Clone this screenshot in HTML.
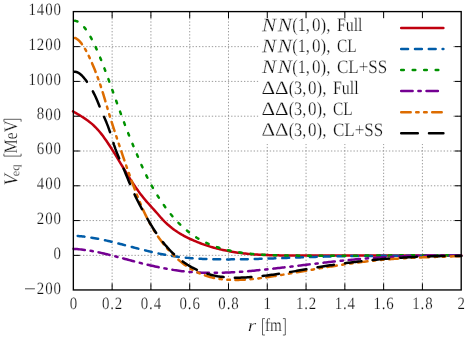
<!DOCTYPE html>
<html><head><meta charset="utf-8"><title>Veq</title>
<style>html,body{margin:0;padding:0;background:#fff}svg{display:block;will-change:transform;opacity:0.999}text{font-family:"Liberation Serif",serif;fill:#111;stroke:#fff;stroke-width:0.25px}</style></head>
<body>
<svg width="469" height="339" viewBox="0 0 469 339">
<rect width="469" height="339" fill="#fff"/>
<path d="M112.13,289.95 V11.6 M150.92,289.95 V11.6 M189.71,289.95 V11.6 M228.49,289.95 V11.6 M267.27,289.95 V11.6 M306.06,289.95 V11.6 M344.85,289.95 V11.6 M383.63,289.95 V11.6 M422.42,289.95 V11.6 M73.35,255.36 H461.2 M73.35,220.57 H461.2 M73.35,185.79 H461.2 M73.35,151.00 H461.2 M73.35,116.21 H461.2 M73.35,81.42 H461.2 M73.35,46.64 H461.2" fill="none" stroke="#8a8a8a" stroke-width="0.85" stroke-dasharray="1.35 1.87"/>
<g fill="none" stroke-width="2.5" stroke-linejoin="round" stroke-linecap="round">
<path d="M73.0,111.31 L74.5,112.22 L76.0,113.12 L77.5,114.01 L79.0,114.90 L80.5,115.80 L82.0,116.73 L83.5,117.67 L85.0,118.66 L86.5,119.69 L88.0,120.77 L89.5,121.91 L91.0,123.12 L92.5,124.41 L94.0,125.78 L95.5,127.24 L97.0,128.81 L98.5,130.48 L100.0,132.26 L101.5,134.14 L103.0,136.10 L104.5,138.15 L106.0,140.27 L107.5,142.47 L109.0,144.72 L110.5,147.02 L112.0,149.38 L113.5,151.77 L115.0,154.19 L116.5,156.63 L118.0,159.10 L119.5,161.57 L121.0,164.04 L122.5,166.51 L124.0,168.97 L125.5,171.41 L127.0,173.83 L128.4,176.22 L129.9,178.58 L131.4,180.90 L132.9,183.19 L134.4,185.43 L135.9,187.63 L137.4,189.77 L138.9,191.86 L140.4,193.89 L141.9,195.85 L143.4,197.75 L144.9,199.57 L146.4,201.33 L147.9,203.03 L149.4,204.69 L150.9,206.34 L152.4,207.98 L153.9,209.63 L155.4,211.32 L156.9,213.05 L158.4,214.79 L159.9,216.52 L161.4,218.21 L162.9,219.82 L164.4,221.36 L165.9,222.82 L167.4,224.22 L168.9,225.54 L170.4,226.81 L171.9,228.01 L173.4,229.15 L174.9,230.24 L176.4,231.27 L177.9,232.26 L179.4,233.20 L180.9,234.10 L182.4,234.97 L183.9,235.79 L185.4,236.59 L186.9,237.35 L188.4,238.09 L189.9,238.80 L191.4,239.50 L192.9,240.17 L194.4,240.83 L195.9,241.47 L197.4,242.08 L198.9,242.68 L200.4,243.26 L201.9,243.82 L203.4,244.37 L204.9,244.89 L206.4,245.40 L207.9,245.90 L209.4,246.37 L210.9,246.83 L212.4,247.28 L213.9,247.70 L215.4,248.12 L216.9,248.51 L218.4,248.89 L219.9,249.26 L221.4,249.62 L222.9,249.96 L224.4,250.28 L225.9,250.59 L227.4,250.89 L228.9,251.18 L230.4,251.45 L231.9,251.72 L233.4,251.97 L234.9,252.20 L236.4,252.43 L237.9,252.65 L239.4,252.85 L240.9,253.05 L242.4,253.23 L243.9,253.41 L245.4,253.57 L246.9,253.73 L248.4,253.88 L249.9,254.02 L251.4,254.15 L252.9,254.27 L254.4,254.39 L255.9,254.49 L257.4,254.59 L258.9,254.69 L260.4,254.77 L261.9,254.85 L263.4,254.93 L264.9,254.99 L266.4,255.06 L267.9,255.11 L269.4,255.16 L270.9,255.21 L272.4,255.25 L273.9,255.29 L275.4,255.32 L276.9,255.35 L278.4,255.37 L279.9,255.39 L281.4,255.41 L282.9,255.43 L284.4,255.44 L285.9,255.45 L287.4,255.45 L288.9,255.46 L290.4,255.46 L291.9,255.47 L293.4,255.47 L294.9,255.47 L296.4,255.47 L297.9,255.46 L299.4,255.46 L300.9,255.46 L302.4,255.46 L303.9,255.46 L305.4,255.46 L306.9,255.46 L308.4,255.46 L309.9,255.46 L311.4,255.46 L312.9,255.46 L314.4,255.45 L315.9,255.45 L317.4,255.45 L318.9,255.45 L320.4,255.45 L321.9,255.45 L323.4,255.45 L324.9,255.46 L326.4,255.46 L327.9,255.46 L329.4,255.46 L330.9,255.46 L332.4,255.46 L333.9,255.46 L335.4,255.46 L336.9,255.46 L338.4,255.46 L339.9,255.46 L341.4,255.46 L342.9,255.46 L344.4,255.47 L345.9,255.47 L347.4,255.47 L348.9,255.47 L350.4,255.47 L351.9,255.47 L353.4,255.47 L354.9,255.48 L356.4,255.48 L357.9,255.48 L359.4,255.48 L360.9,255.48 L362.4,255.48 L363.9,255.48 L365.4,255.49 L366.9,255.49 L368.4,255.49 L369.9,255.49 L371.4,255.49 L372.9,255.49 L374.4,255.50 L375.9,255.50 L377.4,255.50 L378.9,255.50 L380.4,255.50 L381.9,255.50 L383.4,255.51 L384.9,255.51 L386.4,255.51 L387.9,255.51 L389.4,255.51 L390.9,255.51 L392.4,255.51 L393.9,255.52 L395.4,255.52 L396.9,255.52 L398.4,255.52 L399.9,255.52 L401.4,255.52 L402.9,255.52 L404.4,255.52 L405.9,255.52 L407.4,255.53 L408.9,255.53 L410.4,255.53 L411.9,255.53 L413.4,255.53 L414.9,255.53 L416.4,255.53 L417.9,255.53 L419.4,255.53 L420.9,255.53 L422.4,255.53 L423.9,255.53 L425.4,255.53 L426.9,255.53 L428.4,255.53 L429.9,255.53 L431.4,255.53 L432.9,255.53 L434.4,255.53 L435.9,255.53 L437.4,255.53 L438.9,255.53 L440.4,255.53 L441.9,255.52 L443.4,255.52 L444.9,255.52 L446.4,255.52 L447.9,255.52 L449.4,255.52 L450.9,255.51 L452.4,255.51 L453.9,255.51 L455.4,255.51 L456.9,255.50 L458.4,255.50 L459.9,255.50 L461.3,255.50" stroke="#c0000f"/>
<path d="M76.7,235.88 L78.2,236.00 L79.7,236.13 L81.2,236.28 L82.7,236.44 L84.2,236.61 L85.7,236.80 L87.2,237.00 L88.7,237.22 L90.2,237.45 L91.7,237.69 L93.2,237.94 L94.7,238.20 L96.2,238.47 L97.7,238.75 L99.2,239.05 L100.7,239.35 L102.2,239.66 L103.7,239.98 L105.2,240.31 L106.7,240.64 L108.2,240.98 L109.7,241.33 L111.2,241.69 L112.7,242.05 L114.2,242.41 L115.7,242.79 L117.2,243.16 L118.7,243.54 L120.2,243.92 L121.7,244.31 L123.2,244.70 L124.7,245.09 L126.2,245.48 L127.7,245.87 L129.2,246.27 L130.7,246.66 L132.2,247.06 L133.7,247.45 L135.2,247.85 L136.7,248.24 L138.2,248.63 L139.7,249.02 L141.2,249.40 L142.7,249.78 L144.2,250.16 L145.7,250.53 L147.2,250.90 L148.7,251.27 L150.2,251.63 L151.7,251.98 L153.2,252.33 L154.7,252.67 L156.2,253.00 L157.7,253.33 L159.2,253.65 L160.7,253.95 L162.2,254.25 L163.7,254.55 L165.2,254.83 L166.7,255.10 L168.2,255.36 L169.7,255.61 L171.2,255.85 L172.7,256.08 L174.2,256.30 L175.7,256.51 L177.2,256.71 L178.7,256.90 L180.2,257.08 L181.7,257.26 L183.2,257.43 L184.7,257.58 L186.2,257.73 L187.7,257.87 L189.2,258.01 L190.7,258.14 L192.2,258.25 L193.7,258.37 L195.2,258.47 L196.7,258.57 L198.2,258.66 L199.7,258.74 L201.2,258.82 L202.7,258.90 L204.2,258.96 L205.7,259.02 L207.2,259.08 L208.7,259.13 L210.2,259.17 L211.7,259.21 L213.2,259.25 L214.7,259.28 L216.2,259.31 L217.7,259.33 L219.2,259.35 L220.7,259.36 L222.2,259.37 L223.7,259.38 L225.2,259.38 L226.7,259.38 L228.2,259.38 L229.7,259.38 L231.2,259.37 L232.7,259.36 L234.2,259.35 L235.7,259.34 L237.2,259.32 L238.7,259.30 L240.2,259.28 L241.7,259.26 L243.2,259.23 L244.7,259.21 L246.2,259.18 L247.7,259.15 L249.2,259.11 L250.7,259.08 L252.2,259.04 L253.7,259.01 L255.2,258.97 L256.7,258.93 L258.2,258.89 L259.7,258.84 L261.2,258.80 L262.7,258.75 L264.2,258.71 L265.7,258.66 L267.2,258.61 L268.7,258.56 L270.2,258.51 L271.7,258.46 L273.2,258.40 L274.7,258.35 L276.2,258.30 L277.7,258.24 L279.2,258.19 L280.7,258.13 L282.2,258.08 L283.7,258.02 L285.2,257.97 L286.7,257.91 L288.2,257.85 L289.7,257.80 L291.2,257.74 L292.7,257.68 L294.2,257.63 L295.7,257.57 L297.2,257.51 L298.7,257.46 L300.2,257.40 L301.7,257.35 L303.2,257.29 L304.7,257.24 L306.2,257.19 L307.7,257.13 L309.2,257.08 L310.7,257.03 L312.2,256.98 L313.7,256.93 L315.2,256.88 L316.7,256.83 L318.2,256.79 L319.7,256.74 L321.2,256.70 L322.7,256.66 L324.2,256.62 L325.7,256.58 L327.2,256.54 L328.7,256.50 L330.2,256.47 L331.7,256.43 L333.2,256.40 L334.7,256.37 L336.2,256.34 L337.7,256.31 L339.2,256.28 L340.7,256.25 L342.2,256.23 L343.7,256.20 L345.2,256.18 L346.7,256.16 L348.2,256.14 L349.7,256.12 L351.2,256.10 L352.7,256.08 L354.2,256.06 L355.7,256.04 L357.2,256.03 L358.7,256.01 L360.2,256.00 L361.7,255.98 L363.2,255.97 L364.7,255.96 L366.2,255.95 L367.7,255.94 L369.2,255.93 L370.7,255.92 L372.2,255.91 L373.7,255.90 L375.2,255.89 L376.7,255.89 L378.2,255.88 L379.7,255.87 L381.2,255.87 L382.7,255.86 L384.2,255.86 L385.7,255.85 L387.2,255.85 L388.7,255.84 L390.2,255.84 L391.7,255.84 L393.2,255.83 L394.7,255.83 L396.2,255.83 L397.7,255.82 L399.2,255.82 L400.7,255.82 L402.2,255.81 L403.7,255.81 L405.2,255.81 L406.7,255.81 L408.2,255.80 L409.7,255.80 L411.2,255.80 L412.7,255.79 L414.2,255.79 L415.7,255.79 L417.2,255.78 L418.7,255.78 L420.2,255.77 L421.7,255.77 L423.2,255.77 L424.7,255.76 L426.2,255.75 L427.7,255.75 L429.2,255.74 L430.7,255.73 L432.2,255.73 L433.7,255.72 L435.2,255.71 L436.7,255.70 L438.2,255.69 L439.7,255.68 L441.2,255.67 L442.7,255.66 L444.2,255.65 L445.7,255.63 L447.2,255.62 L448.7,255.60 L450.2,255.59 L451.7,255.57 L453.2,255.55 L454.7,255.54 L456.2,255.52 L457.7,255.50 L459.2,255.48 L460.7,255.45 L461.3,255.45" stroke="#005ca8" stroke-dasharray="6.85 6.95" stroke-dashoffset="-1.0"/>
<path d="M73.5,20.71 L75.0,20.75 L76.5,21.10 L78.0,21.73 L79.5,22.65 L81.0,23.83 L82.5,25.27 L84.0,26.95 L85.5,28.87 L87.0,31.01 L88.5,33.36 L90.0,35.91 L91.5,38.66 L93.0,41.57 L94.5,44.66 L96.0,47.90 L97.5,51.29 L99.0,54.80 L100.5,58.44 L102.0,62.19 L103.5,66.04 L105.0,69.98 L106.5,73.99 L108.0,78.06 L109.5,82.18 L111.0,86.34 L112.5,90.52 L114.0,94.72 L115.5,98.93 L117.0,103.12 L118.5,107.29 L120.0,111.44 L121.5,115.55 L123.0,119.61 L124.5,123.63 L126.0,127.60 L127.5,131.50 L129.0,135.32 L130.5,139.07 L132.0,142.74 L133.5,146.31 L135.0,149.83 L136.5,153.35 L138.0,156.91 L139.5,160.48 L141.0,164.00 L142.5,167.40 L144.0,170.67 L145.5,173.82 L147.0,176.85 L148.5,179.78 L150.0,182.61 L151.5,185.36 L153.0,188.03 L154.5,190.62 L156.0,193.14 L157.5,195.59 L159.0,197.96 L160.5,200.27 L162.0,202.51 L163.5,204.67 L165.0,206.77 L166.5,208.81 L168.0,210.78 L169.5,212.69 L171.0,214.53 L172.5,216.32 L174.0,218.04 L175.5,219.71 L177.0,221.31 L178.5,222.87 L180.0,224.36 L181.5,225.81 L183.0,227.20 L184.5,228.54 L186.0,229.82 L187.5,231.06 L189.0,232.25 L190.5,233.40 L192.0,234.50 L193.5,235.55 L195.0,236.56 L196.5,237.53 L198.0,238.45 L199.5,239.34 L201.0,240.19 L202.5,241.00 L204.0,241.78 L205.5,242.52 L207.0,243.22 L208.5,243.89 L210.0,244.54 L211.5,245.15 L213.0,245.73 L214.5,246.28 L216.0,246.81 L217.5,247.31 L219.0,247.79 L220.5,248.24 L222.0,248.67 L223.5,249.08 L225.0,249.47 L226.5,249.84 L228.0,250.19 L229.5,250.53 L231.0,250.85 L232.5,251.16 L234.0,251.45 L235.5,251.72 L237.0,251.99 L238.5,252.23 L240.0,252.47 L241.5,252.69 L243.0,252.90 L244.5,253.10 L246.0,253.28 L247.5,253.46 L249.0,253.62 L250.5,253.77 L252.0,253.92 L253.5,254.05 L255.0,254.18 L256.5,254.29 L258.0,254.40 L259.5,254.50 L261.0,254.59 L262.5,254.68 L264.0,254.76 L265.5,254.83 L267.0,254.90 L268.5,254.96 L270.0,255.02 L271.5,255.07 L273.0,255.12 L274.5,255.17 L276.0,255.21 L277.5,255.25 L279.0,255.29 L280.5,255.32 L282.0,255.36 L283.5,255.39 L285.0,255.42 L286.5,255.45 L288.0,255.48 L289.5,255.51 L291.0,255.53 L292.5,255.56 L294.0,255.58 L295.5,255.60 L297.0,255.62 L298.5,255.64 L300.0,255.66 L301.5,255.67 L303.0,255.69 L304.5,255.70 L306.0,255.72 L307.5,255.73 L309.0,255.74 L310.5,255.75 L312.0,255.76 L313.5,255.77 L315.0,255.77 L316.5,255.78 L318.0,255.78 L319.5,255.79 L321.0,255.79 L322.5,255.79 L324.0,255.79 L325.5,255.80 L327.0,255.80 L328.5,255.79 L330.0,255.79 L331.5,255.79 L333.0,255.79 L334.5,255.78 L336.0,255.78 L337.5,255.77 L339.0,255.77 L340.5,255.76 L342.0,255.75 L343.5,255.75 L345.0,255.74 L346.5,255.73 L348.0,255.72 L349.5,255.71 L351.0,255.70 L352.5,255.69 L354.0,255.68 L355.5,255.67 L357.0,255.66 L358.5,255.65 L360.0,255.64 L361.5,255.62 L363.0,255.61 L364.5,255.60 L366.0,255.59 L367.5,255.57 L369.0,255.56 L370.5,255.55 L372.0,255.54 L373.5,255.52 L375.0,255.51 L376.5,255.50 L378.0,255.48 L379.5,255.47 L381.0,255.46 L382.5,255.45 L384.0,255.43 L385.5,255.42 L387.0,255.41 L388.5,255.40 L390.0,255.38 L391.5,255.37 L393.0,255.36 L394.5,255.35 L396.0,255.34 L397.5,255.33 L399.0,255.32 L400.5,255.31 L402.0,255.30 L403.5,255.29 L405.0,255.28 L406.5,255.28 L408.0,255.27 L409.5,255.26 L411.0,255.26 L412.5,255.25 L414.0,255.25 L415.5,255.24 L417.0,255.24 L418.5,255.23 L420.0,255.23 L421.5,255.23 L423.0,255.23 L424.5,255.23 L426.0,255.23 L427.5,255.23 L429.0,255.23 L430.5,255.24 L432.0,255.24 L433.5,255.25 L435.0,255.25 L436.5,255.26 L438.0,255.27 L439.5,255.28 L441.0,255.29 L442.5,255.30 L444.0,255.31 L445.5,255.33 L447.0,255.34 L448.5,255.36 L450.0,255.37 L451.5,255.39 L453.0,255.41 L454.5,255.43 L456.0,255.45 L457.5,255.48 L459.0,255.50 L460.5,255.53 L461.3,255.54" stroke="#009200" stroke-dasharray="2.60 8.90" stroke-dashoffset="-1.5"/>
<path d="M72.5,248.82 L74.0,248.89 L75.5,248.99 L77.0,249.10 L78.5,249.24 L80.0,249.38 L81.5,249.55 L83.0,249.73 L84.5,249.92 L86.0,250.13 L87.5,250.35 L89.0,250.59 L90.5,250.84 L92.0,251.10 L93.5,251.37 L95.0,251.66 L96.5,251.95 L98.0,252.26 L99.5,252.57 L101.0,252.90 L102.5,253.23 L104.0,253.57 L105.5,253.92 L107.0,254.28 L108.5,254.64 L110.0,255.01 L111.5,255.39 L113.0,255.77 L114.5,256.15 L116.0,256.54 L117.5,256.93 L119.0,257.32 L120.5,257.72 L122.0,258.12 L123.5,258.52 L125.0,258.92 L126.5,259.32 L128.0,259.72 L129.5,260.12 L131.0,260.52 L132.5,260.92 L134.0,261.31 L135.5,261.70 L137.0,262.09 L138.5,262.48 L140.0,262.86 L141.5,263.24 L143.0,263.61 L144.5,263.98 L146.0,264.34 L147.5,264.70 L149.0,265.06 L150.5,265.41 L152.0,265.75 L153.5,266.09 L155.0,266.43 L156.5,266.75 L158.0,267.07 L159.5,267.39 L161.0,267.69 L162.5,267.99 L164.0,268.29 L165.5,268.57 L167.0,268.85 L168.5,269.12 L170.0,269.38 L171.5,269.63 L173.0,269.87 L174.5,270.11 L176.0,270.33 L177.5,270.55 L179.0,270.76 L180.5,270.95 L182.0,271.14 L183.5,271.32 L185.0,271.48 L186.5,271.64 L188.0,271.78 L189.5,271.92 L191.0,272.05 L192.5,272.16 L194.0,272.27 L195.5,272.37 L197.0,272.45 L198.5,272.53 L200.0,272.61 L201.5,272.67 L203.0,272.72 L204.5,272.77 L206.0,272.80 L207.5,272.83 L209.0,272.85 L210.5,272.87 L212.0,272.87 L213.5,272.87 L215.0,272.87 L216.5,272.85 L218.0,272.83 L219.5,272.80 L221.0,272.76 L222.5,272.72 L224.0,272.67 L225.5,272.62 L227.0,272.56 L228.5,272.49 L230.0,272.42 L231.5,272.34 L233.0,272.26 L234.5,272.17 L236.0,272.08 L237.5,271.98 L239.0,271.88 L240.5,271.78 L242.0,271.66 L243.5,271.55 L245.0,271.43 L246.5,271.31 L248.0,271.18 L249.5,271.05 L251.0,270.92 L252.5,270.78 L254.0,270.64 L255.5,270.50 L257.0,270.35 L258.5,270.20 L260.0,270.05 L261.5,269.90 L263.0,269.74 L264.5,269.59 L266.0,269.43 L267.5,269.27 L269.0,269.10 L270.5,268.94 L272.0,268.78 L273.5,268.61 L275.0,268.44 L276.5,268.27 L278.0,268.10 L279.5,267.93 L281.0,267.76 L282.5,267.58 L284.0,267.41 L285.5,267.23 L287.0,267.06 L288.5,266.88 L290.0,266.70 L291.5,266.53 L293.0,266.35 L294.5,266.17 L296.0,265.99 L297.5,265.81 L299.0,265.63 L300.5,265.45 L302.0,265.27 L303.5,265.09 L305.0,264.91 L306.5,264.73 L308.0,264.55 L309.5,264.37 L311.0,264.19 L312.5,264.02 L314.0,263.84 L315.5,263.66 L317.0,263.48 L318.5,263.31 L320.0,263.13 L321.5,262.96 L323.0,262.79 L324.5,262.61 L326.0,262.44 L327.5,262.27 L329.0,262.10 L330.5,261.94 L332.0,261.77 L333.5,261.60 L335.0,261.44 L336.5,261.28 L338.0,261.12 L339.5,260.96 L341.0,260.80 L342.5,260.65 L344.0,260.50 L345.5,260.34 L347.0,260.19 L348.5,260.05 L350.0,259.90 L351.5,259.76 L353.0,259.62 L354.5,259.48 L356.0,259.35 L357.5,259.21 L359.0,259.08 L360.5,258.96 L362.0,258.83 L363.5,258.71 L365.0,258.59 L366.5,258.47 L368.0,258.35 L369.5,258.24 L371.0,258.12 L372.5,258.02 L374.0,257.91 L375.5,257.80 L377.0,257.70 L378.5,257.60 L380.0,257.50 L381.5,257.41 L383.0,257.32 L384.5,257.22 L386.0,257.14 L387.5,257.05 L389.0,256.97 L390.5,256.88 L392.0,256.81 L393.5,256.73 L395.0,256.65 L396.5,256.58 L398.0,256.51 L399.5,256.44 L401.0,256.38 L402.5,256.32 L404.0,256.25 L405.5,256.20 L407.0,256.14 L408.5,256.08 L410.0,256.03 L411.5,255.98 L413.0,255.94 L414.5,255.89 L416.0,255.85 L417.5,255.81 L419.0,255.77 L420.5,255.73 L422.0,255.70 L423.5,255.66 L425.0,255.64 L426.5,255.61 L428.0,255.58 L429.5,255.56 L431.0,255.54 L432.5,255.52 L434.0,255.50 L435.5,255.49 L437.0,255.48 L438.5,255.47 L440.0,255.46 L441.5,255.45 L443.0,255.45 L444.5,255.45 L446.0,255.45 L447.5,255.45 L449.0,255.46 L450.5,255.46 L452.0,255.47 L453.5,255.48 L455.0,255.50 L456.5,255.51 L458.0,255.53 L459.5,255.55 L461.0,255.57 L461.3,255.58" stroke="#740092" stroke-dasharray="11.40 5.80 2.30 5.80" stroke-dashoffset="-1.0"/>
<path d="M73.5,37.65 L75.0,37.98 L76.5,38.69 L78.0,39.75 L79.5,41.15 L81.0,42.86 L82.5,44.86 L84.0,47.13 L85.5,49.66 L87.0,52.42 L88.5,55.39 L90.0,58.56 L91.5,61.90 L93.0,65.39 L94.5,69.04 L96.0,72.86 L97.5,76.87 L99.0,81.06 L100.5,85.47 L102.0,90.08 L103.5,94.93 L105.0,99.94 L106.5,105.04 L108.0,110.14 L109.5,115.15 L111.0,120.00 L112.5,124.73 L114.0,129.36 L115.5,133.94 L117.0,138.48 L118.5,142.99 L120.0,147.47 L121.5,151.91 L123.0,156.31 L124.5,160.68 L126.0,165.00 L127.5,169.28 L129.0,173.52 L130.5,177.70 L132.0,181.84 L133.5,185.91 L135.0,189.90 L136.5,193.81 L138.0,197.63 L139.5,201.33 L141.0,204.92 L142.5,208.38 L144.0,211.70 L145.5,214.88 L147.0,217.92 L148.5,220.83 L150.0,223.61 L151.5,226.27 L153.0,228.82 L154.5,231.26 L156.0,233.60 L157.5,235.85 L159.0,238.01 L160.5,240.08 L162.0,242.08 L163.5,244.01 L165.0,245.88 L166.5,247.67 L168.0,249.40 L169.5,251.07 L171.0,252.68 L172.5,254.22 L174.0,255.71 L175.5,257.15 L177.0,258.53 L178.5,259.85 L180.0,261.13 L181.5,262.35 L183.0,263.52 L184.5,264.63 L186.0,265.71 L187.5,266.73 L189.0,267.70 L190.5,268.63 L192.0,269.52 L193.5,270.36 L195.0,271.15 L196.5,271.91 L198.0,272.62 L199.5,273.30 L201.0,273.93 L202.5,274.53 L204.0,275.08 L205.5,275.61 L207.0,276.09 L208.5,276.55 L210.0,276.97 L211.5,277.35 L213.0,277.71 L214.5,278.04 L216.0,278.33 L217.5,278.60 L219.0,278.84 L220.5,279.05 L222.0,279.24 L223.5,279.40 L225.0,279.54 L226.5,279.66 L228.0,279.76 L229.5,279.83 L231.0,279.89 L232.5,279.93 L234.0,279.95 L235.5,279.95 L237.0,279.94 L238.5,279.91 L240.0,279.87 L241.5,279.81 L243.0,279.75 L244.5,279.67 L246.0,279.58 L247.5,279.48 L249.0,279.36 L250.5,279.24 L252.0,279.11 L253.5,278.96 L255.0,278.81 L256.5,278.65 L258.0,278.48 L259.5,278.30 L261.0,278.11 L262.5,277.92 L264.0,277.72 L265.5,277.51 L267.0,277.30 L268.5,277.08 L270.0,276.85 L271.5,276.62 L273.0,276.38 L274.5,276.14 L276.0,275.90 L277.5,275.65 L279.0,275.40 L280.5,275.15 L282.0,274.89 L283.5,274.63 L285.0,274.37 L286.5,274.11 L288.0,273.85 L289.5,273.59 L291.0,273.32 L292.5,273.06 L294.0,272.80 L295.5,272.54 L297.0,272.27 L298.5,272.01 L300.0,271.75 L301.5,271.48 L303.0,271.22 L304.5,270.96 L306.0,270.70 L307.5,270.44 L309.0,270.18 L310.5,269.92 L312.0,269.66 L313.5,269.40 L315.0,269.14 L316.5,268.89 L318.0,268.63 L319.5,268.38 L321.0,268.13 L322.5,267.88 L324.0,267.63 L325.5,267.38 L327.0,267.13 L328.5,266.89 L330.0,266.64 L331.5,266.40 L333.0,266.16 L334.5,265.93 L336.0,265.69 L337.5,265.46 L339.0,265.22 L340.5,265.00 L342.0,264.77 L343.5,264.54 L345.0,264.32 L346.5,264.10 L348.0,263.89 L349.5,263.67 L351.0,263.46 L352.5,263.25 L354.0,263.05 L355.5,262.84 L357.0,262.64 L358.5,262.45 L360.0,262.25 L361.5,262.06 L363.0,261.88 L364.5,261.69 L366.0,261.51 L367.5,261.34 L369.0,261.16 L370.5,260.99 L372.0,260.83 L373.5,260.67 L375.0,260.51 L376.5,260.36 L378.0,260.21 L379.5,260.06 L381.0,259.92 L382.5,259.79 L384.0,259.65 L385.5,259.52 L387.0,259.40 L388.5,259.28 L390.0,259.16 L391.5,259.05 L393.0,258.94 L394.5,258.83 L396.0,258.73 L397.5,258.63 L399.0,258.54 L400.5,258.44 L402.0,258.35 L403.5,258.27 L405.0,258.18 L406.5,258.10 L408.0,258.02 L409.5,257.94 L411.0,257.87 L412.5,257.80 L414.0,257.73 L415.5,257.66 L417.0,257.59 L418.5,257.53 L420.0,257.47 L421.5,257.41 L423.0,257.35 L424.5,257.29 L426.0,257.23 L427.5,257.18 L429.0,257.13 L430.5,257.07 L432.0,257.02 L433.5,256.97 L435.0,256.92 L436.5,256.87 L438.0,256.82 L439.5,256.78 L441.0,256.73 L442.5,256.68 L444.0,256.63 L445.5,256.59 L447.0,256.54 L448.5,256.49 L450.0,256.45 L451.5,256.40 L453.0,256.35 L454.5,256.30 L456.0,256.25 L457.5,256.20 L459.0,256.15 L460.5,256.10 L461.3,256.07" stroke="#dd6c00" stroke-dasharray="9.50 5.50 2.40 5.50 2.60 5.50" stroke-dashoffset="-1.5"/>
<path d="M73.5,71.86 L75.0,71.74 L76.5,72.00 L78.0,72.60 L79.5,73.53 L81.0,74.74 L82.5,76.21 L84.0,77.91 L85.5,79.80 L87.0,81.86 L88.5,84.06 L90.0,86.40 L91.5,88.91 L93.0,91.62 L94.5,94.57 L96.0,97.79 L97.5,101.32 L99.0,105.08 L100.5,108.76 L102.0,112.25 L103.5,115.64 L105.0,119.05 L106.5,122.59 L108.0,126.40 L109.5,130.57 L111.0,135.21 L112.5,140.10 L114.0,144.80 L115.5,149.11 L117.0,153.09 L118.5,156.83 L120.0,160.39 L121.5,163.87 L123.0,167.34 L124.5,170.87 L126.0,174.47 L127.5,178.09 L129.0,181.70 L130.5,185.27 L132.0,188.77 L133.5,192.16 L135.0,195.42 L136.5,198.53 L138.0,201.53 L139.5,204.44 L141.0,207.27 L142.5,210.06 L144.0,212.80 L145.5,215.50 L147.0,218.14 L148.5,220.73 L150.0,223.26 L151.5,225.72 L153.0,228.12 L154.5,230.45 L156.0,232.70 L157.5,234.88 L159.0,236.98 L160.5,239.01 L162.0,240.97 L163.5,242.86 L165.0,244.68 L166.5,246.43 L168.0,248.12 L169.5,249.74 L171.0,251.31 L172.5,252.80 L174.0,254.24 L175.5,255.63 L177.0,256.95 L178.5,258.22 L180.0,259.43 L181.5,260.60 L183.0,261.71 L184.5,262.77 L186.0,263.78 L187.5,264.75 L189.0,265.67 L190.5,266.55 L192.0,267.39 L193.5,268.18 L195.0,268.94 L196.5,269.66 L198.0,270.34 L199.5,270.98 L201.0,271.59 L202.5,272.17 L204.0,272.71 L205.5,273.22 L207.0,273.69 L208.5,274.14 L210.0,274.55 L211.5,274.93 L213.0,275.29 L214.5,275.61 L216.0,275.91 L217.5,276.19 L219.0,276.43 L220.5,276.66 L222.0,276.85 L223.5,277.03 L225.0,277.18 L226.5,277.31 L228.0,277.42 L229.5,277.51 L231.0,277.58 L232.5,277.63 L234.0,277.67 L235.5,277.69 L237.0,277.69 L238.5,277.67 L240.0,277.64 L241.5,277.60 L243.0,277.55 L244.5,277.48 L246.0,277.40 L247.5,277.32 L249.0,277.22 L250.5,277.11 L252.0,277.00 L253.5,276.88 L255.0,276.75 L256.5,276.61 L258.0,276.46 L259.5,276.31 L261.0,276.15 L262.5,275.98 L264.0,275.81 L265.5,275.63 L267.0,275.45 L268.5,275.26 L270.0,275.06 L271.5,274.86 L273.0,274.65 L274.5,274.44 L276.0,274.23 L277.5,274.00 L279.0,273.78 L280.5,273.55 L282.0,273.32 L283.5,273.09 L285.0,272.85 L286.5,272.61 L288.0,272.36 L289.5,272.11 L291.0,271.87 L292.5,271.61 L294.0,271.36 L295.5,271.11 L297.0,270.85 L298.5,270.60 L300.0,270.34 L301.5,270.08 L303.0,269.82 L304.5,269.56 L306.0,269.30 L307.5,269.05 L309.0,268.79 L310.5,268.53 L312.0,268.28 L313.5,268.02 L315.0,267.77 L316.5,267.52 L318.0,267.27 L319.5,267.02 L321.0,266.77 L322.5,266.53 L324.0,266.29 L325.5,266.06 L327.0,265.82 L328.5,265.59 L330.0,265.36 L331.5,265.14 L333.0,264.91 L334.5,264.69 L336.0,264.48 L337.5,264.26 L339.0,264.05 L340.5,263.84 L342.0,263.64 L343.5,263.43 L345.0,263.23 L346.5,263.03 L348.0,262.84 L349.5,262.65 L351.0,262.46 L352.5,262.27 L354.0,262.09 L355.5,261.90 L357.0,261.73 L358.5,261.55 L360.0,261.38 L361.5,261.21 L363.0,261.04 L364.5,260.87 L366.0,260.71 L367.5,260.55 L369.0,260.40 L370.5,260.24 L372.0,260.09 L373.5,259.94 L375.0,259.80 L376.5,259.66 L378.0,259.52 L379.5,259.38 L381.0,259.24 L382.5,259.11 L384.0,258.98 L385.5,258.86 L387.0,258.73 L388.5,258.61 L390.0,258.49 L391.5,258.38 L393.0,258.27 L394.5,258.16 L396.0,258.05 L397.5,257.95 L399.0,257.84 L400.5,257.75 L402.0,257.65 L403.5,257.56 L405.0,257.46 L406.5,257.38 L408.0,257.29 L409.5,257.21 L411.0,257.13 L412.5,257.05 L414.0,256.98 L415.5,256.91 L417.0,256.84 L418.5,256.77 L420.0,256.71 L421.5,256.65 L423.0,256.59 L424.5,256.53 L426.0,256.48 L427.5,256.43 L429.0,256.38 L430.5,256.34 L432.0,256.30 L433.5,256.26 L435.0,256.22 L436.5,256.19 L438.0,256.16 L439.5,256.13 L441.0,256.11 L442.5,256.08 L444.0,256.06 L445.5,256.05 L447.0,256.03 L448.5,256.02 L450.0,256.01 L451.5,256.00 L453.0,256.00 L454.5,256.00 L456.0,256.00 L457.5,256.00 L459.0,256.01 L460.5,256.02 L461.3,256.03" stroke="#000000" stroke-dasharray="16.60 11.20" stroke-dashoffset="-1.0"/>
</g>
<rect x="258.5" y="11.85" width="193.5" height="132.15" fill="#fff"/>
<g fill="none" stroke-width="2.5" stroke-linecap="round">
<path d="M401.2,28.0 H443.4" stroke="#c0000f"/>
<path d="M401.2,49.1 H443.4" stroke="#005ca8" stroke-dasharray="6.85 6.95"/>
<path d="M401.2,70.1 H443.4" stroke="#009200" stroke-dasharray="2.60 8.90"/>
<path d="M401.2,91.1 H443.4" stroke="#740092" stroke-dasharray="11.40 5.80 2.30 5.80"/>
<path d="M401.2,112.2 H443.4" stroke="#dd6c00" stroke-dasharray="9.50 5.50 2.40 5.50 2.60 5.50"/>
<path d="M401.2,133.2 H443.4" stroke="#000000" stroke-dasharray="16.60 11.20"/>
</g>
<path d="M112.13,289.95 v-6.6 M112.13,11.6 v6.6 M150.92,289.95 v-6.6 M150.92,11.6 v6.6 M189.71,289.95 v-6.6 M189.71,11.6 v6.6 M228.49,289.95 v-6.6 M228.49,11.6 v6.6 M267.27,289.95 v-6.6 M267.27,11.6 v6.6 M306.06,289.95 v-6.6 M306.06,11.6 v6.6 M344.85,289.95 v-6.6 M344.85,11.6 v6.6 M383.63,289.95 v-6.6 M383.63,11.6 v6.6 M422.42,289.95 v-6.6 M422.42,11.6 v6.6 M73.35,255.36 h6.5 M461.2,255.36 h-6.5 M73.35,220.57 h6.5 M461.2,220.57 h-6.5 M73.35,185.79 h6.5 M461.2,185.79 h-6.5 M73.35,151.00 h6.5 M461.2,151.00 h-6.5 M73.35,116.21 h6.5 M461.2,116.21 h-6.5 M73.35,81.42 h6.5 M461.2,81.42 h-6.5 M73.35,46.64 h6.5 M461.2,46.64 h-6.5" fill="none" stroke="#000" stroke-width="1"/>
<rect x="73.35" y="11.6" width="387.85" height="278.35" fill="none" stroke="#000" stroke-width="1.35"/>
<text transform="translate(61.76,294.05) rotate(0.03) scale(0.744,0.865)" font-size="20.0" text-anchor="end" letter-spacing="1.16">200</text>
<path d="M25.0,288.8 h9.9" stroke="#222" stroke-width="0.8" fill="none"/>
<text transform="translate(61.76,258.66) rotate(0.03) scale(0.744,0.865)" font-size="20.0" text-anchor="end" letter-spacing="1.16">0</text>
<text transform="translate(61.76,223.87) rotate(0.03) scale(0.744,0.865)" font-size="20.0" text-anchor="end" letter-spacing="1.16">200</text>
<text transform="translate(61.76,189.09) rotate(0.03) scale(0.744,0.865)" font-size="20.0" text-anchor="end" letter-spacing="1.16">400</text>
<text transform="translate(61.76,154.30) rotate(0.03) scale(0.744,0.865)" font-size="20.0" text-anchor="end" letter-spacing="1.16">600</text>
<text transform="translate(61.76,119.51) rotate(0.03) scale(0.744,0.865)" font-size="20.0" text-anchor="end" letter-spacing="1.16">800</text>
<text transform="translate(61.76,84.72) rotate(0.03) scale(0.744,0.865)" font-size="20.0" text-anchor="end" letter-spacing="1.16">1000</text>
<text transform="translate(61.76,49.94) rotate(0.03) scale(0.744,0.865)" font-size="20.0" text-anchor="end" letter-spacing="1.16">1200</text>
<text transform="translate(61.76,15.15) rotate(0.03) scale(0.744,0.865)" font-size="20.0" text-anchor="end" letter-spacing="1.16">1400</text>
<text transform="translate(73.78,309.00) rotate(0.03) scale(0.744,0.865)" font-size="20.0" text-anchor="middle" letter-spacing="1.16">0</text>
<text transform="translate(112.57,309.00) rotate(0.03) scale(0.744,0.865)" font-size="20.0" text-anchor="middle" letter-spacing="1.16">0.2</text>
<text transform="translate(151.35,309.00) rotate(0.03) scale(0.744,0.865)" font-size="20.0" text-anchor="middle" letter-spacing="1.16">0.4</text>
<text transform="translate(190.14,309.00) rotate(0.03) scale(0.744,0.865)" font-size="20.0" text-anchor="middle" letter-spacing="1.16">0.6</text>
<text transform="translate(228.92,309.00) rotate(0.03) scale(0.744,0.865)" font-size="20.0" text-anchor="middle" letter-spacing="1.16">0.8</text>
<text transform="translate(267.71,309.00) rotate(0.03) scale(0.744,0.865)" font-size="20.0" text-anchor="middle" letter-spacing="1.16">1</text>
<text transform="translate(306.49,309.00) rotate(0.03) scale(0.744,0.865)" font-size="20.0" text-anchor="middle" letter-spacing="1.16">1.2</text>
<text transform="translate(345.28,309.00) rotate(0.03) scale(0.744,0.865)" font-size="20.0" text-anchor="middle" letter-spacing="1.16">1.4</text>
<text transform="translate(384.06,309.00) rotate(0.03) scale(0.744,0.865)" font-size="20.0" text-anchor="middle" letter-spacing="1.16">1.6</text>
<text transform="translate(422.85,309.00) rotate(0.03) scale(0.744,0.865)" font-size="20.0" text-anchor="middle" letter-spacing="1.16">1.8</text>
<text transform="translate(461.63,309.00) rotate(0.03) scale(0.744,0.865)" font-size="20.0" text-anchor="middle" letter-spacing="1.16">2</text>
<text transform="translate(247.80,330.90) rotate(0.03) scale(1.250,1.000)" font-size="17.2" font-style="italic">r</text>
<text transform="translate(265.00,330.90) rotate(0.03) scale(1.000,1.000)" font-size="18.5" textLength="16.80" lengthAdjust="spacingAndGlyphs">fm</text>
<path d="M264.9,318.6 h-2.4 v16.4 h2.4 M282.9,318.6 h2.4 v16.4 h-2.4" fill="none" stroke="#3a3a3a" stroke-width="0.8"/>
<g transform="rotate(-90)">
<text transform="translate(-185.40,17.20) rotate(0.03) scale(0.940,1.000)" font-size="19.6" font-style="italic">V</text>
<text transform="translate(-176.30,19.30) rotate(0.03) scale(1.000,1.000)" font-size="12.1" textLength="11.80" lengthAdjust="spacingAndGlyphs">eq</text>
<text transform="translate(-153.60,17.20) rotate(0.03) scale(1.000,1.000)" font-size="19.0" textLength="32.80" lengthAdjust="spacingAndGlyphs">MeV</text>
<path d="M-153.7,3.9 h-2.4 v17.2 h2.4 M-121.7,3.9 h2.4 v17.2 h-2.4" fill="none" stroke="#3a3a3a" stroke-width="0.8"/>
</g>
<text transform="translate(262.00,31.30) rotate(0.03) scale(1.116,1.000)" font-size="19.0" font-style="italic">N</text>
<text transform="translate(277.80,31.30) rotate(0.03) scale(1.116,1.000)" font-size="19.0" font-style="italic">N</text>
<text transform="translate(292.30,31.30) rotate(0.03) scale(1.000,1.000)" font-size="19.0" textLength="17.60" lengthAdjust="spacingAndGlyphs">(1,</text>
<text transform="translate(312.00,31.30) rotate(0.03) scale(1.000,1.000)" font-size="19.0" textLength="18.40" lengthAdjust="spacingAndGlyphs">0),</text>
<text transform="translate(336.90,31.30) rotate(0.03) scale(1.000,1.000)" font-size="19.0" textLength="25.60" lengthAdjust="spacingAndGlyphs">Full</text>
<text transform="translate(262.00,52.20) rotate(0.03) scale(1.116,1.000)" font-size="19.0" font-style="italic">N</text>
<text transform="translate(277.80,52.20) rotate(0.03) scale(1.116,1.000)" font-size="19.0" font-style="italic">N</text>
<text transform="translate(292.30,52.20) rotate(0.03) scale(1.000,1.000)" font-size="19.0" textLength="17.60" lengthAdjust="spacingAndGlyphs">(1,</text>
<text transform="translate(312.00,52.20) rotate(0.03) scale(1.000,1.000)" font-size="19.0" textLength="18.40" lengthAdjust="spacingAndGlyphs">0),</text>
<text transform="translate(336.90,52.20) rotate(0.03) scale(1.000,1.000)" font-size="19.0" textLength="19.60" lengthAdjust="spacingAndGlyphs">CL</text>
<text transform="translate(262.00,73.10) rotate(0.03) scale(1.116,1.000)" font-size="19.0" font-style="italic">N</text>
<text transform="translate(277.80,73.10) rotate(0.03) scale(1.116,1.000)" font-size="19.0" font-style="italic">N</text>
<text transform="translate(292.30,73.10) rotate(0.03) scale(1.000,1.000)" font-size="19.0" textLength="17.60" lengthAdjust="spacingAndGlyphs">(1,</text>
<text transform="translate(312.00,73.10) rotate(0.03) scale(1.000,1.000)" font-size="19.0" textLength="18.40" lengthAdjust="spacingAndGlyphs">0),</text>
<text transform="translate(336.90,73.10) rotate(0.03) scale(1.000,1.000)" font-size="19.0" textLength="50.30" lengthAdjust="spacingAndGlyphs">CL+SS</text>
<text transform="translate(261.40,94.00) rotate(0.03) scale(1.116,1.000)" font-size="19.0">Δ</text>
<text transform="translate(275.10,94.00) rotate(0.03) scale(1.116,1.000)" font-size="19.0">Δ</text>
<text transform="translate(288.70,94.00) rotate(0.03) scale(1.000,1.000)" font-size="19.0" textLength="17.60" lengthAdjust="spacingAndGlyphs">(3,</text>
<text transform="translate(308.10,94.00) rotate(0.03) scale(1.000,1.000)" font-size="19.0" textLength="18.40" lengthAdjust="spacingAndGlyphs">0),</text>
<text transform="translate(333.00,94.00) rotate(0.03) scale(1.000,1.000)" font-size="19.0" textLength="25.60" lengthAdjust="spacingAndGlyphs">Full</text>
<text transform="translate(261.40,114.90) rotate(0.03) scale(1.116,1.000)" font-size="19.0">Δ</text>
<text transform="translate(275.10,114.90) rotate(0.03) scale(1.116,1.000)" font-size="19.0">Δ</text>
<text transform="translate(288.70,114.90) rotate(0.03) scale(1.000,1.000)" font-size="19.0" textLength="17.60" lengthAdjust="spacingAndGlyphs">(3,</text>
<text transform="translate(308.10,114.90) rotate(0.03) scale(1.000,1.000)" font-size="19.0" textLength="18.40" lengthAdjust="spacingAndGlyphs">0),</text>
<text transform="translate(333.00,114.90) rotate(0.03) scale(1.000,1.000)" font-size="19.0" textLength="19.60" lengthAdjust="spacingAndGlyphs">CL</text>
<text transform="translate(261.40,135.80) rotate(0.03) scale(1.116,1.000)" font-size="19.0">Δ</text>
<text transform="translate(275.10,135.80) rotate(0.03) scale(1.116,1.000)" font-size="19.0">Δ</text>
<text transform="translate(288.70,135.80) rotate(0.03) scale(1.000,1.000)" font-size="19.0" textLength="17.60" lengthAdjust="spacingAndGlyphs">(3,</text>
<text transform="translate(308.10,135.80) rotate(0.03) scale(1.000,1.000)" font-size="19.0" textLength="18.40" lengthAdjust="spacingAndGlyphs">0),</text>
<text transform="translate(333.00,135.80) rotate(0.03) scale(1.000,1.000)" font-size="19.0" textLength="50.30" lengthAdjust="spacingAndGlyphs">CL+SS</text>
</svg></body></html>
